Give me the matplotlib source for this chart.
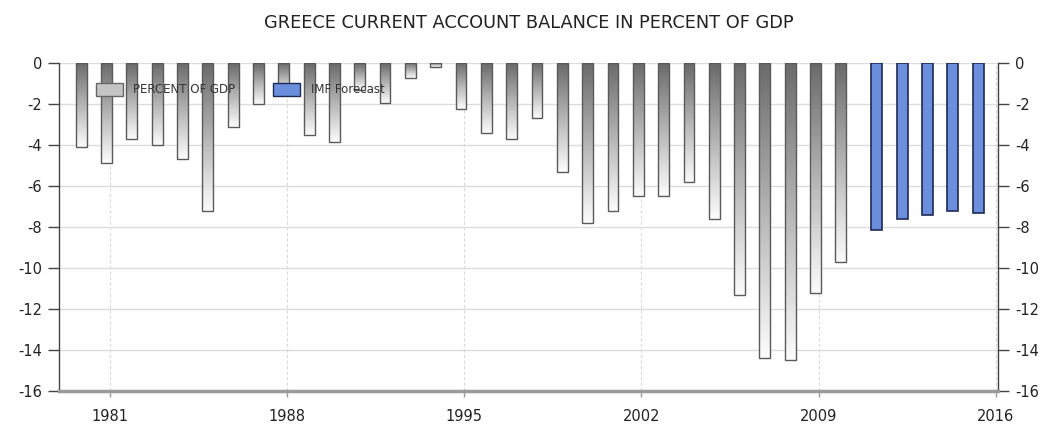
import matplotlib
matplotlib.use('Agg')
import matplotlib.pyplot as plt
from matplotlib.colors import LinearSegmentedColormap
from matplotlib.patches import Patch
import numpy as np

plt.rcParams['font.family'] = ['Liberation Sans Narrow', 'DejaVu Sans']

# data
years = list(range(1980, 2011))
balance = [-4.1, -4.9, -3.7, -4.0, -4.7, -7.2, -3.1, -2.0, -1.5, -3.5,
           -3.85, -1.3, -1.95, -0.75, -0.2, -2.25, -3.4, -3.7, -2.7, -5.3,
           -7.8, -7.2, -6.5, -6.5, -5.8, -7.6, -11.3, -14.4, -14.5, -11.2,
           -9.7]
forecast_years = [2011, 2012, 2013, 2014, 2015]
forecast = [-8.15, -7.6, -7.4, -7.2, -7.3]
xticks = [1981, 1988, 1995, 2002, 2009, 2016]
yticks = [0, -2, -4, -6, -8, -10, -12, -14, -16]

title = 'GREECE CURRENT ACCOUNT BALANCE IN PERCENT OF GDP'
labels = ['PERCENT OF GDP', 'IMF Forecast']

fig = plt.figure(figsize=(10.51, 4.32), dpi=100)
ax = fig.add_axes([0.056, 0.095, 0.894, 0.759])

gray_cmap = LinearSegmentedColormap.from_list('g', ['#6a6a6a', '#b4b4b4', '#fcfcfc'])
grad = np.linspace(0, 1, 256).reshape(-1, 1)

bars = ax.bar(np.array(years) - 0.12, balance, width=0.43,
              facecolor='none', edgecolor='#5a5a5a', linewidth=1, zorder=3)
for b in bars:
    x0, y0 = b.get_xy()
    w, h = b.get_width(), b.get_height()
    im = ax.imshow(grad, extent=[x0, x0 + w, y0 + h, y0], cmap=gray_cmap,
                   aspect='auto', zorder=2, interpolation='bilinear')
    im.set_clip_path(b)

ax.bar(np.array(forecast_years) + 0.3, forecast, width=0.43,
       facecolor='#6b8fdc', edgecolor='#1c2a55', linewidth=1.2, zorder=3)

ax.set_xlim(1979.0, 2016.1)
ax.set_ylim(-16, 0)
ax.set_xticks(xticks)
ax.set_yticks(yticks)
ax.set_yticklabels([str(v) for v in yticks])

ax.grid(axis='y', color='#dcdcdc', linewidth=1, zorder=0)
ax.grid(axis='x', color='#dadada', linewidth=0.8, linestyle=(0, (3, 2)), zorder=0)
ax.set_axisbelow(True)

for s in ['left', 'right']:
    ax.spines[s].set_color('#444444')
    ax.spines[s].set_linewidth(1)
ax.spines['top'].set_visible(False)
ax.spines['bottom'].set_color('#9a9a9a')
ax.spines['bottom'].set_linewidth(2.5)

ax.tick_params(axis='y', which='both', left=True, right=True, labelleft=True,
               labelright=True, length=8, width=1, color='#444444',
               labelsize=10.5, labelcolor='#222222', pad=4)
ax.tick_params(axis='x', length=4, width=1, color='#999999',
               labelsize=10.5, labelcolor='#222222', pad=9)

handles = [Patch(facecolor='#c4c4c4', edgecolor='#666666'),
           Patch(facecolor='#6b8fdc', edgecolor='#1c2a55')]
ax.legend(handles, labels, loc='center left', bbox_to_anchor=(0.034, 0.918),
          ncol=2, frameon=False, fontsize=8.5, handlelength=2.3, handleheight=1.2,
          columnspacing=3.2, handletextpad=0.9, borderaxespad=0, labelcolor='#333333')

fig.text(0.503, 0.947, title, ha='center', va='center', fontsize=12.8,
         color='#222222', fontweight='medium')

fig.savefig('out.png', dpi=100)
